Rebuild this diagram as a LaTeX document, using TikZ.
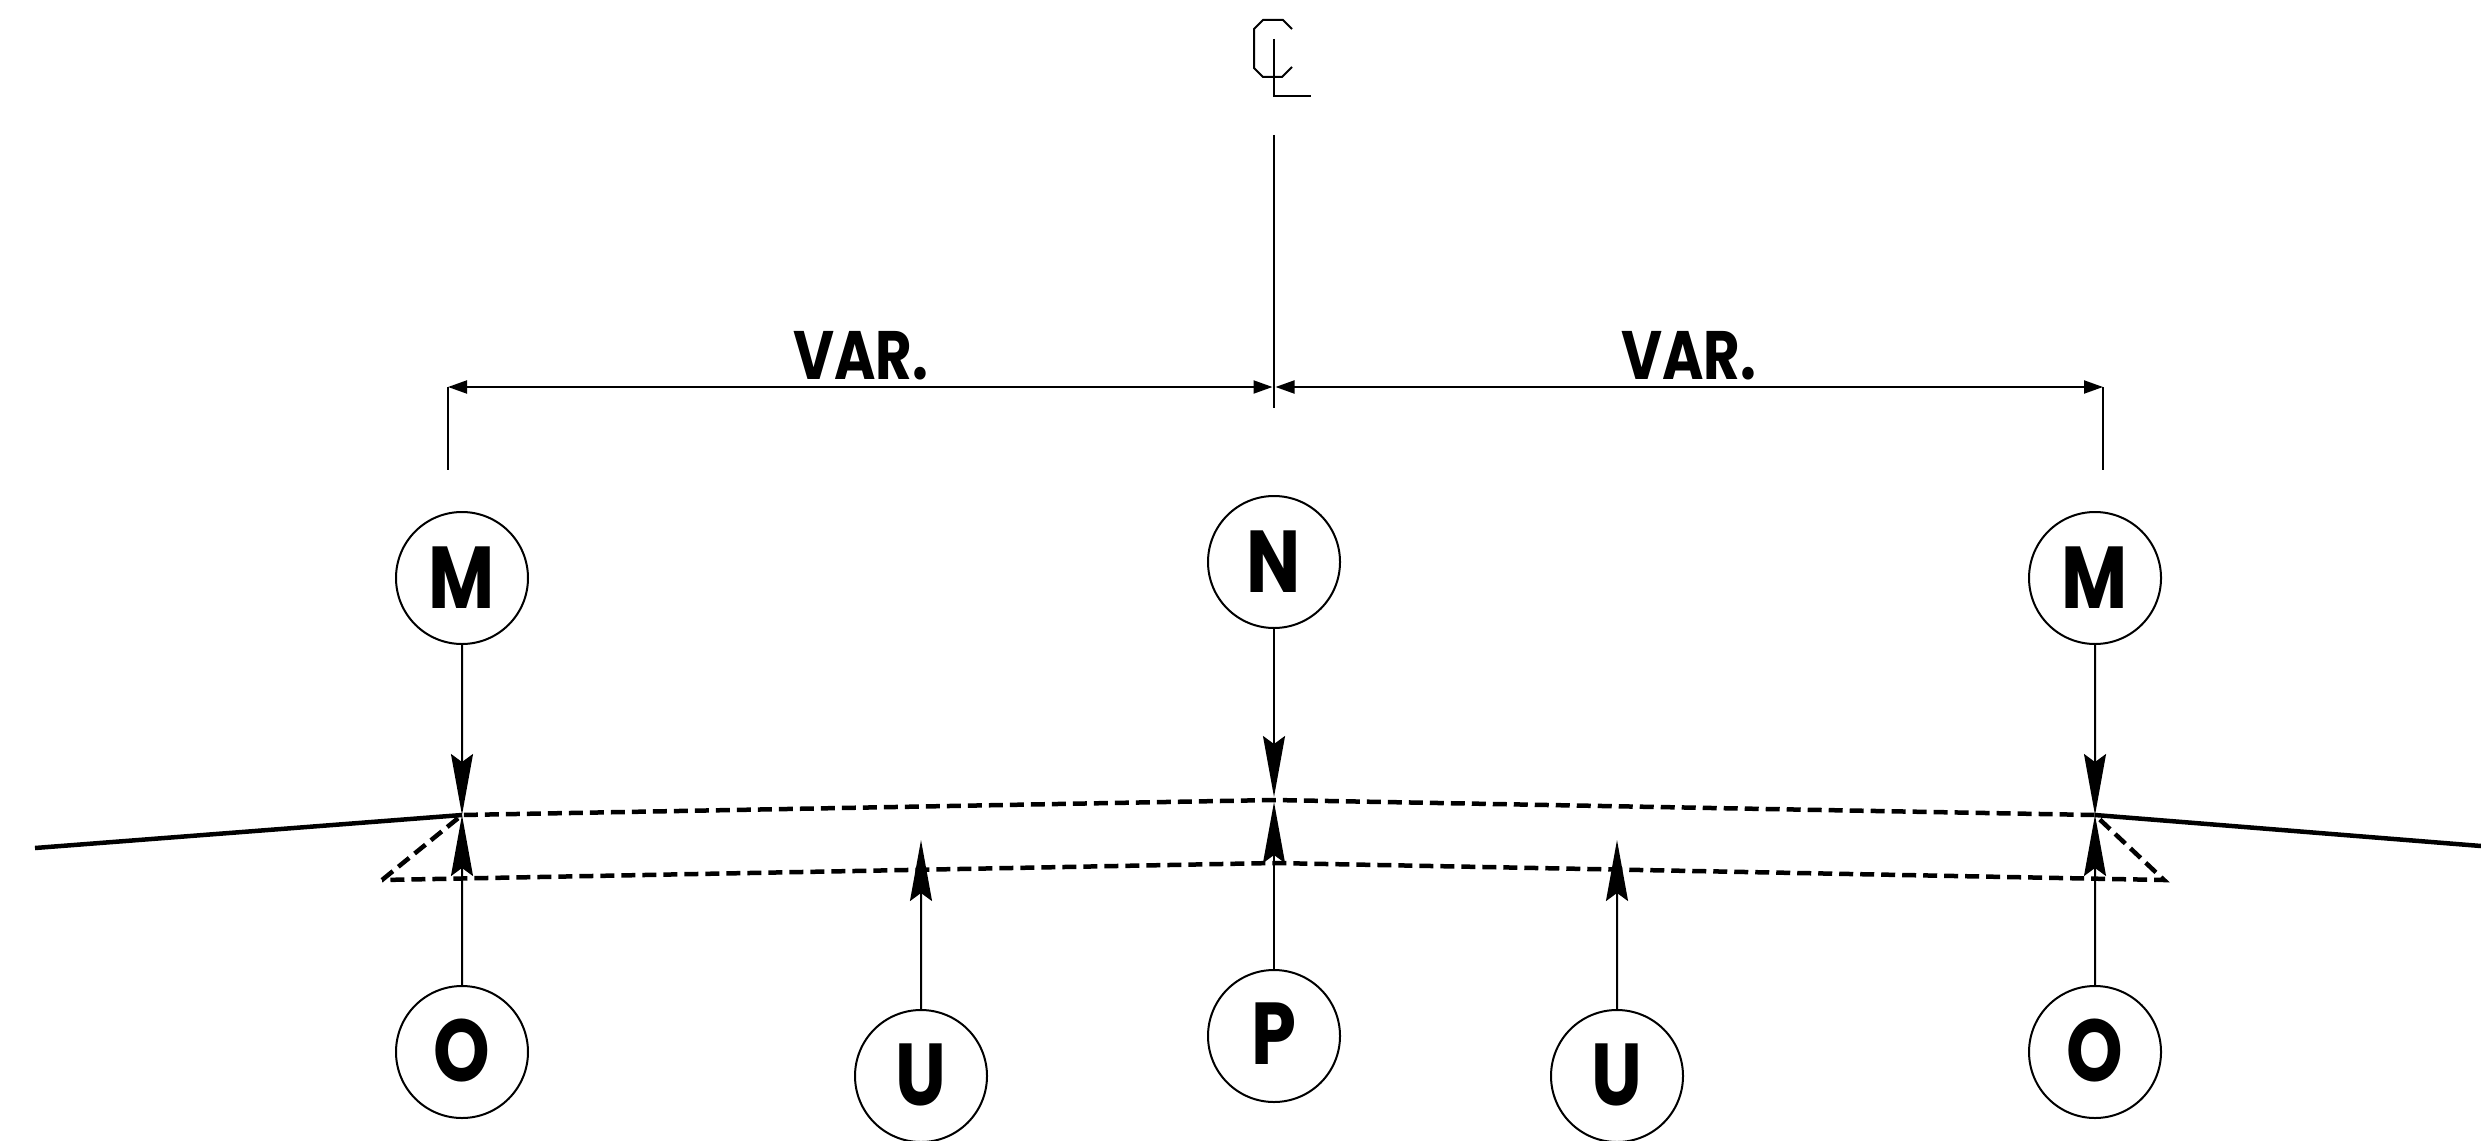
\documentclass[tikz,border=0pt]{standalone}
\usepackage{fontspec}
\setmainfont{Poppins}[BoldFeatures={FakeStretch=0.82}]
\usetikzlibrary{arrows.meta,positioning}

\begin{document}
\begin{tikzpicture}[x=1mm, y=-1mm, on grid, thin line/.style = {line width=0.2mm},
        mark node/.style = {draw, circle, thin line, minimum size=13.2mm, inner sep=0, font=\fontsize{25}{25}\selectfont\bfseries},
        load/.style = {thin line, -{Stealth[length=6.1mm, width=2.2mm, inset=0.8mm]}},
        dim/.style = {thin line, {Stealth[length=1.9mm, width=1.3mm, inset=0pt]}-{Stealth[length=1.9mm, width=1.3mm, inset=0pt]}, shorten >=0.15mm},
        edge line/.style = {line width=0.45mm},
        hidden line/.style = {line width=0.45mm, dash pattern=on 1.4mm off 0.7mm}]
    \useasboundingbox (0,0) rectangle (248.1,114.1);

    \node[mark node]                           (n_1)  at (127.4,56.2) {N};
    \node[mark node, below left = 1.6mm and 81.2mm of n_1]  (m_1)  {M};
    \node[mark node, below right = 1.6mm and 82.1mm of n_1] (m_2)  {M};
    \node[mark node, below = 47.4mm of n_1]      (p_1)  {\raisebox{0.4mm}{P}};
    \node[mark node, below = 47.4mm of m_1]      (o_1)  {\raisebox{0.4mm}{O}};
    \node[mark node, below = 47.4mm of m_2]      (o_2)  {\raisebox{0.4mm}{O}};
    \node[mark node, below left = 4mm and 35.3mm of p_1]  (u_1)  {\raisebox{0.3mm}{U}};
    \node[mark node, below right = 4mm and 34.3mm of p_1] (u_2)  {\raisebox{0.3mm}{U}};

    \coordinate (top_c) at (127.4,80.0);
    \coordinate (low_c) at (127.4,86.3);
    \coordinate (top_l) at (46.2,81.5);
    \coordinate (top_r) at (209.5,81.5);
    \coordinate (low_l) at (38.2,88.0);
    \coordinate (low_r) at (216.4,88.0);
    \coordinate (end_l) at (3.5,84.8);
    \coordinate (end_r) at (248.1,84.6);
    \coordinate (n_tip) at (127.4,79.7);
    \coordinate (p_tip) at (127.4,80.2);
    \coordinate (u_tip1) at (92.1,84.0);
    \coordinate (u_tip2) at (161.7,84.0);

    % centre line
    \coordinate (cl_a) at (127.4,13.5);
    \coordinate (cl_b) at (127.4,40.8);
    \draw[thin line] (cl_a) -- (cl_b);
    \draw[thin line] (129.2,2.9) -- (128.3,2.0) -- (126.3,2.0) -- (125.4,2.9) -- (125.4,6.8) -- (126.3,7.7) -- (128.2,7.7) -- (129.2,6.7);
    \draw[thin line] (127.4,3.9) -- (127.4,9.6) -- (131.1,9.6);

    % dimensions
    \coordinate (dim_l) at (44.8,38.7);
    \coordinate (dim_c) at (127.4,38.7);
    \coordinate (dim_r) at (210.3,38.7);
    \coordinate (ext_l) at (44.8,47.0);
    \coordinate (ext_r) at (210.3,47.0);
    \draw[thin line] (dim_l) -- (ext_l);
    \draw[thin line] (dim_r) -- (ext_r);
    \draw[font=\fontsize{19.5}{19.5}\selectfont\bfseries]
        (dim_l) edge [dim] node[above=0.6mm, inner sep=0] {VAR.} (dim_c)
        (dim_r) edge [dim] node[above=0.6mm, inner sep=0] {VAR.} (dim_c)
        ;

    % road surface
    \draw[edge line] (end_l) -- (top_l);
    \draw[edge line] (top_r) -- (end_r);
    \draw[hidden line] (low_l) -- (top_l) -- (top_c) -- (top_r) -- (low_r) -- (low_c) -- cycle;

    \draw
        (m_1) edge [load] (top_l)
        (o_1) edge [load] (top_l)
        (n_1) edge [load] (n_tip)
        (p_1) edge [load] (p_tip)
        (m_2) edge [load] (top_r)
        (o_2) edge [load] (top_r)
        (u_1) edge [load] (u_tip1)
        (u_2) edge [load] (u_tip2)
        ;
\end{tikzpicture}
\end{document}
